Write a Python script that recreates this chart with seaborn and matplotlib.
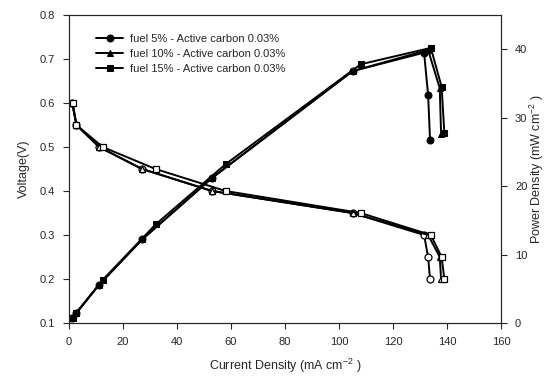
import pandas as pd
import matplotlib
matplotlib.use("Agg")
import matplotlib.pyplot as plt
import seaborn as sns

sns.set_style("ticks")
plt.rcParams["font.family"] = ["Liberation Sans", "DejaVu Sans"]
plt.rcParams["mathtext.fontset"] = "custom"
plt.rcParams["mathtext.rm"] = "Liberation Sans"

labels = ["fuel 5% - Active carbon 0.03%",
          "fuel 10% - Active carbon 0.03%",
          "fuel 15% - Active carbon 0.03%"]
markers = ["o", "^", "s"]

# current density (mA cm-2)
i_5 = [1.2, 2.8, 11.2, 27.1, 53, 105, 131.5, 133, 133.7]
i_10 = [1.2, 2.8, 11.2, 27.1, 53, 105, 133, 137.3, 137.8]
i_15 = [1.4, 2.8, 12.5, 32.1, 58, 108, 134, 138, 139]

# voltage (V)
v_5 = [0.6, 0.55, 0.5, 0.45, 0.4, 0.35, 0.3, 0.25, 0.2]
v_10 = [0.6, 0.55, 0.5, 0.45, 0.4, 0.35, 0.3, 0.25, 0.2]
v_15 = [0.6, 0.55, 0.5, 0.45, 0.4, 0.35, 0.3, 0.25, 0.2]

# power density (mW cm-2)
p_5 = [0.7, 1.5, 5.6, 12.2, 21.2, 36.8, 39.5, 33.3, 26.8]
p_10 = [0.7, 1.5, 5.6, 12.2, 21.2, 36.8, 39.9, 34.3, 27.6]
p_15 = [0.8, 1.5, 6.3, 14.4, 23.2, 37.8, 40.2, 34.5, 27.8]

currents = [i_5, i_10, i_15]
voltages = [v_5, v_10, v_15]
powers = [p_5, p_10, p_15]

fig = plt.figure(figsize=(5.47, 3.76), dpi=100)
ax = fig.add_axes([0.126, 0.141, 0.79, 0.819])
ax2 = ax.twinx()

for cur, volt, pw, lab, m in zip(currents, voltages, powers, labels, markers):
    df = pd.DataFrame({"i": cur, "v": volt, "p": pw})
    sns.lineplot(data=df, x="i", y="v", ax=ax, sort=False, color="k", lw=1.4,
                 marker=m, ms=5, mfc="white", mec="k", mew=0.9)
    sns.lineplot(data=df, x="i", y="p", ax=ax2, sort=False, color="k", lw=1.4,
                 marker=m, ms=5, mfc="k", mec="k", label=lab)

ax.set_xlim(0, 160)
ax.set_ylim(0.1, 0.8)
ax2.set_ylim(0, 45)
ax.set_xticks(range(0, 161, 20))
ax.set_yticks([0.1, 0.2, 0.3, 0.4, 0.5, 0.6, 0.7, 0.8])
ax2.set_yticks([0, 10, 20, 30, 40])

ax.set_xlabel("Current Density (mA cm$^{-2}$ )", fontsize=9, labelpad=7)
ax.set_ylabel("Voltage(V)", fontsize=9, labelpad=7)

for a in (ax, ax2):
    a.tick_params(labelsize=8, direction="out", length=4, width=0.8, pad=6)
    for s in a.spines.values():
        s.set_linewidth(0.8)
        s.set_visible(True)

ax2.set_ylabel("Power Density (mW cm$^{-2}$ )", fontsize=9, labelpad=0)

ax2.legend(loc="upper left", bbox_to_anchor=(0.04, 0.97), frameon=False,
           fontsize=8, handlelength=2.4, handletextpad=0.6, labelspacing=0.45)

fig.savefig("out.png", dpi=100)
